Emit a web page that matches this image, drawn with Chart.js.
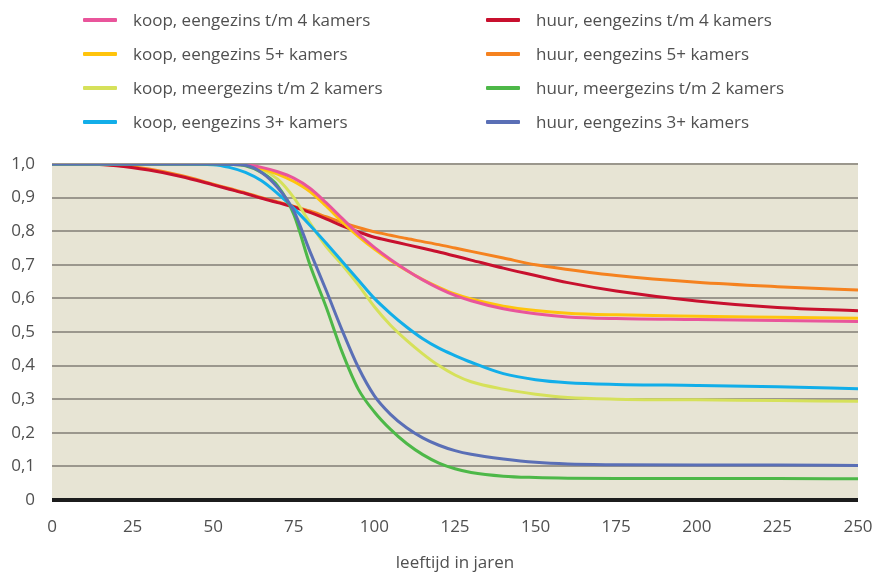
<!DOCTYPE html>
<html>
<head>
<meta charset="utf-8">
<script src="https://cdn.jsdelivr.net/npm/chart.js@4/dist/chart.umd.min.js"></script>
<style>
  html, body { margin: 0; padding: 0; background: #fff; }
  #wrap { position: relative; width: 876px; height: 573px; }
  #c { position: absolute; left: 0; top: 0; }
  .lg { position: absolute; font-family: "Open Sans", Roboto, sans-serif; font-size: 17px; color: #505050; white-space: nowrap; line-height: 20px; }
  .lg span.sw { position: absolute; width: 34px; height: 4px; border-radius: 1px; }
</style>
</head>
<body>
<div id="wrap">
  <canvas id="c" width="876" height="573"></canvas>
  <div id="legend"></div>
</div>
<script>
// ---- data ----
const ages = [0,10,20,30,40,50,55,60,65,70,75,80,85,90,95,100,105,110,115,120,125,130,140,150,160,175,200,225,250];

const seriesLabels = [
  'koop, eengezins t/m 4 kamers',
  'koop, eengezins 5+ kamers',
  'koop, meergezins t/m 2 kamers',
  'koop, eengezins 3+ kamers',
  'huur, eengezins t/m 4 kamers',
  'huur, eengezins 5+ kamers',
  'huur, meergezins t/m 2 kamers',
  'huur, eengezins 3+ kamers'
];

const koopEengezins4 = [1,1,1,1,1,1,1,0.998,0.99,0.977,0.958,0.928,0.885,0.838,0.792,0.752,0.716,0.684,0.655,0.63,0.609,0.593,0.569,0.554,0.545,0.54,0.537,0.534,0.531];
const koopEengezins5 = [1,1,1,1,1,1,1,0.997,0.986,0.97,0.948,0.918,0.875,0.828,0.785,0.747,0.713,0.683,0.656,0.633,0.613,0.598,0.577,0.564,0.556,0.551,0.547,0.544,0.541];
const koopMeergezins2 = [1,1,1,1,1,1,1,0.997,0.985,0.955,0.9,0.825,0.755,0.70,0.64,0.575,0.52,0.475,0.435,0.40,0.372,0.352,0.33,0.315,0.305,0.3,0.298,0.296,0.294];
const koopEengezins3 = [1,1,1,1,1,0.998,0.99,0.975,0.95,0.912,0.868,0.818,0.765,0.71,0.655,0.60,0.555,0.515,0.48,0.452,0.43,0.41,0.376,0.358,0.349,0.344,0.341,0.337,0.331];
const huurEengezins4 = [1,1,0.995,0.982,0.963,0.938,0.925,0.912,0.898,0.885,0.872,0.856,0.837,0.816,0.798,0.782,0.771,0.76,0.749,0.738,0.726,0.714,0.69,0.668,0.647,0.622,0.592,0.573,0.563];
const huurEengezins5 = [1,1,0.996,0.985,0.966,0.94,0.927,0.914,0.9,0.887,0.874,0.86,0.843,0.826,0.811,0.798,0.788,0.778,0.769,0.76,0.75,0.74,0.72,0.70,0.686,0.668,0.648,0.635,0.625];
const huurMeergezins2 = [1,1,1,1,1,1,0.999,0.995,0.975,0.935,0.85,0.70,0.575,0.44,0.33,0.262,0.21,0.168,0.135,0.11,0.093,0.082,0.071,0.067,0.065,0.064,0.064,0.064,0.063];
const huurEengezins3 = [1,1,1,1,1,1,0.999,0.996,0.975,0.93,0.86,0.74,0.625,0.505,0.395,0.31,0.255,0.215,0.185,0.163,0.147,0.136,0.122,0.112,0.107,0.105,0.104,0.104,0.103];

const xTickValues = [0,25,50,75,100,125,150,175,200,225,250];
const yTickLabels = ['0','0,1','0,2','0,3','0,4','0,5','0,6','0,7','0,8','0,9','1,0'];
const xTitle = 'leeftijd in jaren';

// ---- styling ----
const colors = ['#e9559b','#ffc40c','#d6e15a','#12aee9','#c8102e','#f5821f','#4db848','#5a6fb6'];
const drawOrder = [4,5,6,3,7,8,1,0]; // lower = on top
const allSeries = [koopEengezins4,koopEengezins5,koopMeergezins2,koopEengezins3,huurEengezins4,huurEengezins5,huurMeergezins2,huurEengezins3];

const datasets = allSeries.map((s, i) => ({
  label: seriesLabels[i],
  data: ages.map((a, j) => ({x: a, y: s[j]})),
  borderColor: colors[i],
  backgroundColor: colors[i],
  borderWidth: 3,
  pointRadius: 0,
  fill: false,
  cubicInterpolationMode: 'monotone',
  order: drawOrder[i]
}));

// HTML legend: two columns of four
const legend = document.getElementById('legend');
seriesLabels.forEach((lab, i) => {
  const col = i < 4 ? 0 : 1;
  const row = i % 4;
  const d = document.createElement('div');
  d.className = 'lg';
  d.style.left = (col === 0 ? 83 : 486) + 'px';
  d.style.top = (10 + row * 34) + 'px';
  d.style.paddingLeft = '50px';
  const sw = document.createElement('span');
  sw.className = 'sw';
  sw.style.background = colors[i];
  sw.style.left = '0px';
  sw.style.top = '8px';
  d.appendChild(sw);
  d.appendChild(document.createTextNode(lab));
  legend.appendChild(d);
});

const bgPlugin = {
  id: 'bg',
  beforeDraw(chart) {
    const {ctx, chartArea: a} = chart;
    ctx.save();
    ctx.fillStyle = '#e7e4d4';
    ctx.fillRect(a.left, a.top, a.right - a.left, a.bottom - a.top);
    ctx.restore();
  }
};

Chart.defaults.font.family = '"Open Sans", Roboto, sans-serif';
Chart.defaults.font.size = 17;
Chart.defaults.color = '#505050';

new Chart(document.getElementById('c'), {
  type: 'line',
  data: { datasets },
  options: {
    responsive: false,
    animation: false,
    layout: { padding: { top: 164, right: 18, left: 0, bottom: 0 } },
    plugins: { legend: { display: false }, tooltip: { enabled: false } },
    scales: {
      x: {
        type: 'linear',
        min: 0, max: 250,
        afterBuildTicks(scale) { scale.ticks = xTickValues.map(v => ({value: v})); },
        afterFit(scale) { scale.height = 73; scale.paddingLeft = 0; scale.paddingRight = 0; },
        grid: { display: false, drawTicks: false },
        border: { display: false },
        ticks: { padding: 17, maxRotation: 0, autoSkip: false, color: '#505050' },
        title: { display: true, text: xTitle, color: '#505050', padding: { top: 4, bottom: 0 }, font: { size: 17 } }
      },
      y: {
        min: 0, max: 1,
        afterFit(scale) { scale.width = 52; scale.paddingTop = 0; scale.paddingBottom = 0; },
        ticks: {
          stepSize: 0.1,
          padding: 17,
          color: '#505050',
          callback: (v) => yTickLabels[Math.round(v * 10)]
        },
        grid: {
          drawTicks: false,
          color: (c) => (c.tick && Math.abs(c.tick.value) < 1e-9) ? '#1c1c1c' : '#9b978d',
          lineWidth: (c) => (c.tick && Math.abs(c.tick.value) < 1e-9) ? 4 : 2
        },
        border: { display: false }
      }
    }
  },
  plugins: [bgPlugin]
});
</script>
</body>
</html>
